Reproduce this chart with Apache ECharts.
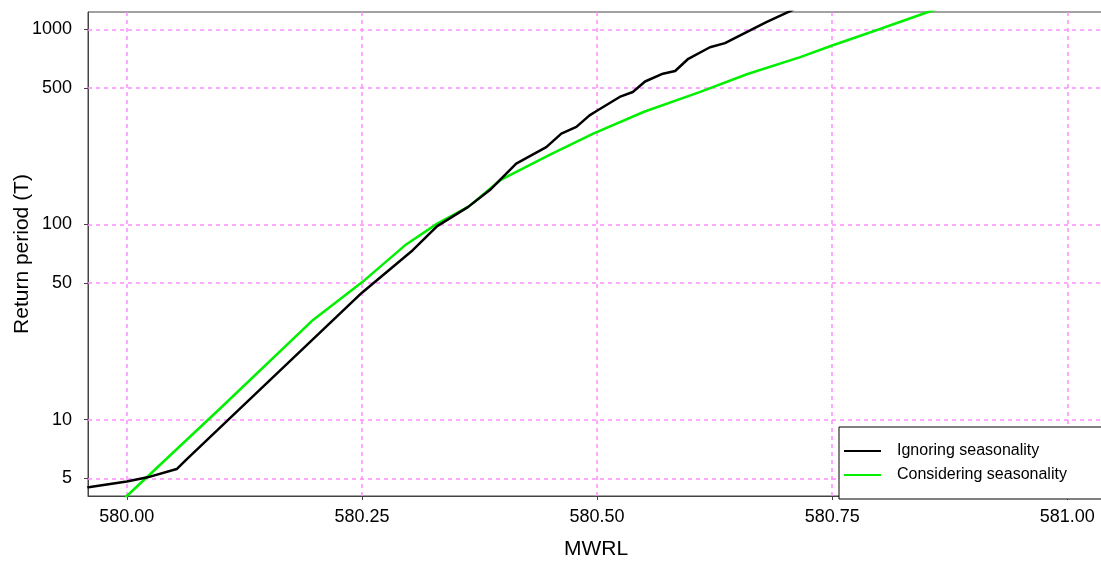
<!DOCTYPE html>
<html>
<head>
<meta charset="utf-8">
<script src="https://cdn.jsdelivr.net/npm/echarts@6/dist/echarts.min.js"></script>
<style>
html,body{margin:0;padding:0;background:#fff;}
#chart{width:1101px;height:563px;}
</style>
</head>
<body>
<div id="chart"></div>
<script>
// MWRL (x) and return period T (y)
var ignoringX = [579.958, 579.961, 580.000, 580.022, 580.053, 580.063, 580.250, 580.304, 580.330, 580.363, 580.386, 580.414, 580.446, 580.462, 580.478, 580.492, 580.499, 580.524, 580.538, 580.551, 580.570, 580.583, 580.597, 580.620, 580.636, 580.659, 580.680, 580.703, 580.720];
var ignoringT = [4.50, 4.52, 4.82, 5.06, 5.58, 6.22, 44.7, 73.8, 98, 123, 150, 205, 249, 292, 316, 362, 380, 450, 477, 540, 592, 611, 706, 809, 849, 966, 1087, 1224, 1340];
var consideringX = [579.995, 580.000, 580.100, 580.198, 580.250, 580.297, 580.330, 580.363, 580.397, 580.450, 580.496, 580.550, 580.609, 580.660, 580.716, 580.750, 580.800, 580.852, 580.870];
var consideringT = [3.80, 4.06, 11.5, 32.4, 50.5, 79, 101, 123, 168.5, 228, 292, 378, 476, 590, 720, 826, 1000, 1226, 1310];
var xTicks = [580.00, 580.25, 580.50, 580.75, 581.00];
var yTicks = [5, 10, 50, 100, 500, 1000];
var seriesNames = ['Ignoring seasonality', 'Considering seasonality'];

function pairs(xs, ys) {
  var out = [];
  for (var i = 0; i < xs.length; i++) out.push([xs[i], ys[i]]);
  return out;
}

var gridColor = '#ff8cff';
var gridLineStyle = {color: gridColor, type: [4, 4], width: 1.5};
var markData = [];
xTicks.forEach(function (v) { markData.push({xAxis: v}); });
yTicks.forEach(function (v) { markData.push({yAxis: v}); });

var chart = echarts.init(document.getElementById('chart'), null, {renderer: 'canvas'});
var font = 'Liberation Sans, Arial, sans-serif';
chart.setOption({
  animation: false,
  backgroundColor: '#ffffff',
  grid: {left: 88, top: 12, right: -3, bottom: 67, show: true, borderColor: '#444', borderWidth: 1,
    backgroundColor: 'transparent', containLabel: false, outerBoundsMode: 'none'},
  legend: {
    orient: 'vertical', left: 839, top: 427,
    data: seriesNames,
    backgroundColor: '#ffffff', borderColor: '#000', borderWidth: 1, borderRadius: 0,
    padding: [16, 60, 16, 4],
    itemWidth: 37, itemHeight: 14, itemGap: 8,
    itemStyle: {opacity: 0},
    textStyle: {fontFamily: font, fontSize: 16, color: '#000', padding: [0, 0, 0, 11]},
    z: 10
  },
  xAxis: {
    type: 'value', min: 579.9587, max: 581.039,
    name: 'MWRL', nameLocation: 'middle', nameGap: 43,
    nameTextStyle: {fontFamily: font, fontSize: 21, color: '#000'},
    axisLine: {show: true, onZero: false, lineStyle: {color: '#444', width: 1}},
    axisTick: {show: true, length: 4, inside: false, customValues: xTicks, lineStyle: {color: '#444'}},
    axisLabel: {customValues: xTicks, fontFamily: font, fontSize: 18, color: '#000', margin: 12,
      formatter: function (v) { return v.toFixed(2); }},
    splitLine: {show: false}
  },
  yAxis: {
    type: 'log', logBase: 10, min: 4.06, max: 1226,
    name: 'Return period (T)', nameLocation: 'middle', nameGap: 55, nameRotate: 90,
    nameMoveOverlap: false,
    nameTextStyle: {fontFamily: font, fontSize: 21, color: '#000'},
    axisLine: {show: true, onZero: false, lineStyle: {color: '#444', width: 1}},
    axisTick: {show: true, length: 4, customValues: yTicks, lineStyle: {color: '#444'}},
    axisLabel: {customValues: yTicks, fontFamily: font, fontSize: 18, color: '#000', margin: 16,
      formatter: function (v) { return String(Math.round(v)); }},
    splitLine: {show: false}
  },
  series: [
    {name: seriesNames[0], type: 'line', data: pairs(ignoringX, ignoringT), symbol: 'none',
      lineStyle: {color: '#000000', width: 2.5}, itemStyle: {color: '#000000'}, clip: true, z: 3,
      markLine: {silent: true, symbol: 'none', label: {show: false}, lineStyle: gridLineStyle,
        emphasis: {disabled: true}, data: markData, z: 1}},
    {name: seriesNames[1], type: 'line', data: pairs(consideringX, consideringT), symbol: 'none',
      lineStyle: {color: '#00f000', width: 2.5}, itemStyle: {color: '#00f000'}, clip: true, z: 2}
  ]
});
</script>
</body>
</html>
